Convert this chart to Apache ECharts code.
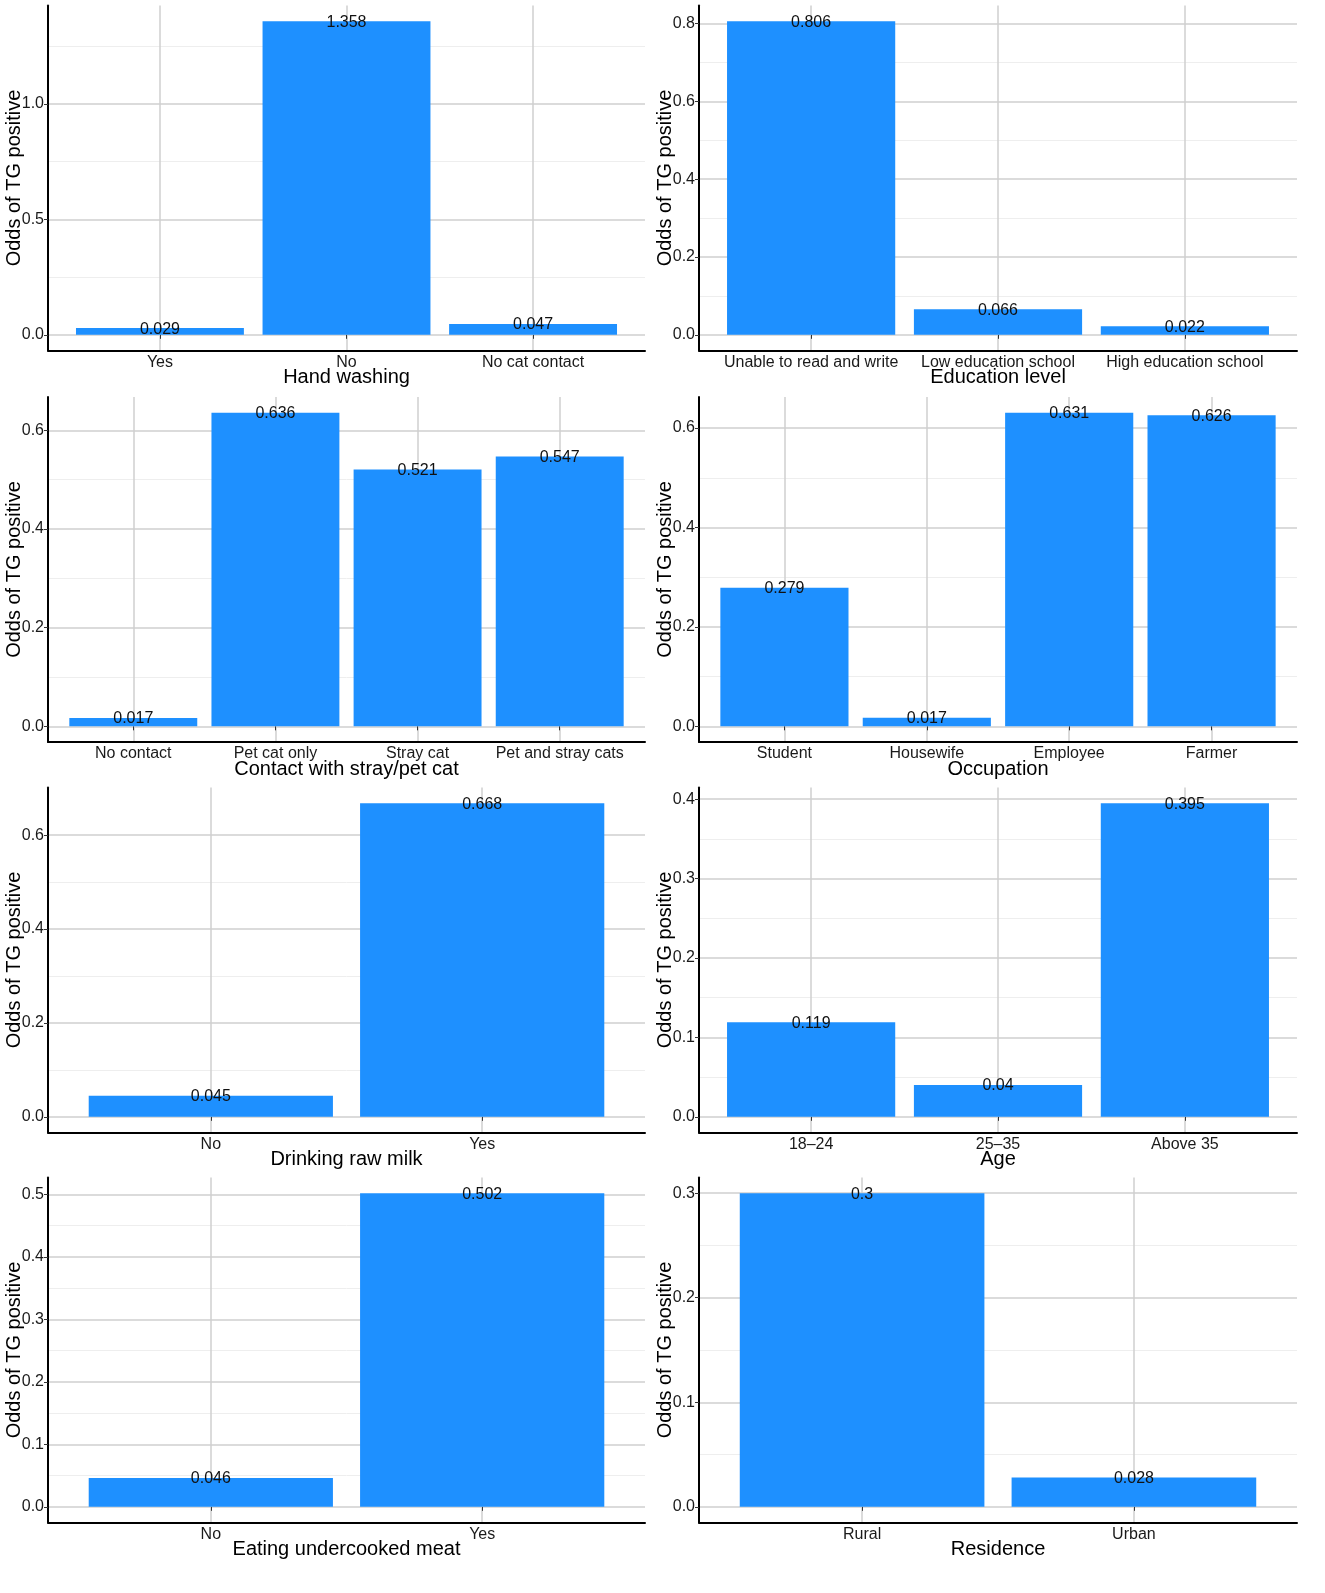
<!DOCTYPE html>
<html>
<head>
<meta charset="utf-8">
<title>Odds of TG positive</title>
<script src="https://cdn.jsdelivr.net/npm/echarts@6/dist/echarts.min.js"></script>
<style>
  html, body { margin: 0; padding: 0; background: #fff; }
  #chart { width: 1325px; height: 1593px; }
</style>
</head>
<body>
<div id="chart"></div>
<script>
// ---- data ----
var handCats = ['Yes', 'No', 'No cat contact'];
var handVals = [0.029, 1.358, 0.047];
var handTicks = [0, 0.5, 1.0];
var handMinor = [0.25, 0.75, 1.25];

var eduCats = ['Unable to read and write', 'Low education school', 'High education school'];
var eduVals = [0.806, 0.066, 0.022];
var eduTicks = [0, 0.2, 0.4, 0.6, 0.8];
var eduMinor = [0.1, 0.3, 0.5, 0.7];

var contactCats = ['No contact', 'Pet cat only', 'Stray cat', 'Pet and stray cats'];
var contactVals = [0.017, 0.636, 0.521, 0.547];
var contactTicks = [0, 0.2, 0.4, 0.6];
var contactMinor = [0.1, 0.3, 0.5];

var occCats = ['Student', 'Housewife', 'Employee', 'Farmer'];
var occVals = [0.279, 0.017, 0.631, 0.626];
var occTicks = [0, 0.2, 0.4, 0.6];
var occMinor = [0.1, 0.3, 0.5];

var milkCats = ['No', 'Yes'];
var milkVals = [0.045, 0.668];
var milkTicks = [0, 0.2, 0.4, 0.6];
var milkMinor = [0.1, 0.3, 0.5];

var ageCats = ['18\u201324', '25\u201335', 'Above 35'];
var ageVals = [0.119, 0.04, 0.395];
var ageTicks = [0, 0.1, 0.2, 0.3, 0.4];
var ageMinor = [0.05, 0.15, 0.25, 0.35];

var meatCats = ['No', 'Yes'];
var meatVals = [0.046, 0.502];
var meatTicks = [0, 0.1, 0.2, 0.3, 0.4, 0.5];
var meatMinor = [0.05, 0.15, 0.25, 0.35, 0.45];

var resCats = ['Rural', 'Urban'];
var resVals = [0.3, 0.028];
var resTicks = [0, 0.1, 0.2, 0.3];
var resMinor = [0.05, 0.15, 0.25];

var yTitle = 'Odds of TG positive';

// panel list: [categories, values, ticks, minor, x title]
var panels = [
  [handCats, handVals, handTicks, handMinor, 'Hand washing'],
  [eduCats, eduVals, eduTicks, eduMinor, 'Education level'],
  [contactCats, contactVals, contactTicks, contactMinor, 'Contact with stray/pet cat'],
  [occCats, occVals, occTicks, occMinor, 'Occupation'],
  [milkCats, milkVals, milkTicks, milkMinor, 'Drinking raw milk'],
  [ageCats, ageVals, ageTicks, ageMinor, 'Age'],
  [meatCats, meatVals, meatTicks, meatMinor, 'Eating undercooked meat'],
  [resCats, resVals, resTicks, resMinor, 'Residence']
];

// ---- layout ----
var colLeft = [48, 699];
var colWidth = [597, 598];
var rowTop = [5.5, 397, 787.5, 1177.5];
var panelH = 345;

var FONT = 'Liberation Sans, Arial, sans-serif';
var GRID_COLOR = '#cfcfcf';
var MINOR_COLOR = '#eeeeee';
var BAR_COLOR = '#1E90FF';

var grids = [], xAxes = [], yAxes = [], series = [];

panels.forEach(function (p, i) {
  var cats = p[0], vals = p[1], ticks = p[2], minor = p[3], xTitle = p[4];
  var col = i % 2, row = Math.floor(i / 2);
  var L = colLeft[col], W = colWidth[col], T = rowTop[row];
  var n = cats.length;
  var unit = W / (n + 0.2);          // ggplot discrete expansion of 0.6 each side
  var vmax = Math.max.apply(null, vals);
  var pad = vmax * 0.05;
  var ymin = -pad, ymax = vmax + pad;

  // outer grid: axis lines, horizontal grid lines, y labels, titles
  var ga = grids.length;
  grids.push({ left: L, top: T, width: W, height: panelH, outerBoundsMode: 'none', containLabel: false });
  // inner grid: bars, vertical grid lines at category centres, x labels
  var gb = grids.length;
  grids.push({ left: L + 0.6 * unit, top: T, width: W - 1.2 * unit, height: panelH, outerBoundsMode: 'none', containLabel: false });

  xAxes.push({
    gridIndex: ga, type: 'value', min: 0, max: 1,
    axisLine: { show: true, onZero: false, lineStyle: { color: '#000', width: 2 } },
    axisTick: { show: false }, axisLabel: { show: false }, splitLine: { show: false },
    name: xTitle, nameLocation: 'middle', nameGap: 17, nameMoveOverlap: false,
    nameTextStyle: { fontFamily: FONT, fontSize: 20, color: '#000' }
  });
  var xb = xAxes.length;
  xAxes.push({
    gridIndex: gb, type: 'category', data: cats, boundaryGap: false,
    axisLine: { show: false },
    axisTick: { show: true, length: 4, lineStyle: { color: '#333', width: 1 } },
    axisLabel: { interval: 0, fontFamily: FONT, fontSize: 16, color: '#1a1a1a', margin: 4 },
    splitLine: { show: true, lineStyle: { color: GRID_COLOR, width: 1.5 } }
  });

  yAxes.push({
    gridIndex: ga, type: 'value', min: ymin, max: ymax,
    axisLine: { show: true, onZero: false, lineStyle: { color: '#000', width: 2 } },
    axisTick: { show: true, length: 4, customValues: ticks, lineStyle: { color: '#333' } },
    axisLabel: {
      customValues: ticks, fontFamily: FONT, fontSize: 16, color: '#1a1a1a', margin: 4,
      formatter: function (v) { return v.toFixed(1); }
    },
    splitLine: { show: true, lineStyle: { color: GRID_COLOR, width: 1.5 } },
    name: yTitle, nameLocation: 'middle', nameGap: 24, nameMoveOverlap: false,
    nameTextStyle: { fontFamily: FONT, fontSize: 20, color: '#000' }
  });
  yAxes.push({
    gridIndex: ga, type: 'value', min: ymin, max: ymax, position: 'left',
    axisLine: { show: false },
    axisTick: { show: false, customValues: minor },
    axisLabel: { show: false },
    splitLine: { show: true, lineStyle: { color: MINOR_COLOR, width: 1 } },
    z: -1
  });
  var yb = yAxes.length;
  yAxes.push({ gridIndex: gb, type: 'value', min: ymin, max: ymax, show: false });

  series.push({
    type: 'bar', xAxisIndex: xb, yAxisIndex: yb, data: vals,
    barWidth: 0.9 * unit, clip: false,
    itemStyle: { color: BAR_COLOR },
    label: {
      show: true, position: 'top', distance: -9,
      fontFamily: FONT, fontSize: 16, color: '#111'
    },
    silent: true
  });
});

var chart = echarts.init(document.getElementById('chart'));
chart.setOption({
  backgroundColor: '#fff',
  animation: false,
  grid: grids,
  xAxis: xAxes,
  yAxis: yAxes,
  series: series
});
</script>
</body>
</html>
